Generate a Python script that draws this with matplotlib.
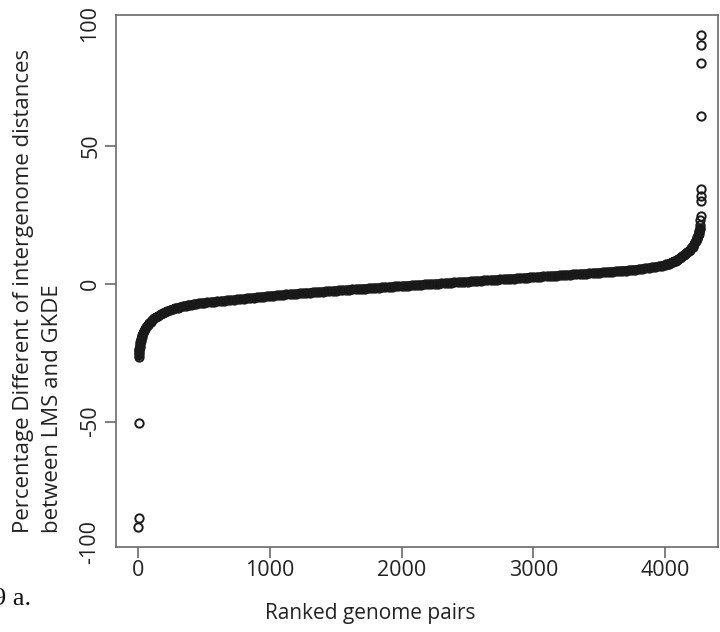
import matplotlib
matplotlib.use("Agg")
import matplotlib.pyplot as plt

# ---- data (rank, percentage difference) ----
ranks_left = [1, 2, 3, 4, 5, 6, 7, 8, 10, 12, 15, 18, 22, 26, 31, 37, 44, 52, 61, 71,
              82, 94, 107, 121, 136, 152, 170, 190,
              200, 220, 240, 260, 280, 300, 320, 340, 360, 380, 400, 420, 440, 460, 480]
values_left = [-88.2, -84.9, -50.5, -26.4, -25.6, -24.9, -24.2, -23.6, -22.8, -22.1,
               -21.3, -20.6, -19.9, -19.2, -18.5, -17.8, -17.1, -16.4, -15.7, -15.0,
               -14.4, -13.8, -13.2, -12.6, -12.1, -11.6, -11.1, -10.6,
               -10.4, -9.95, -9.6, -9.25, -8.95, -8.65, -8.4, -8.15, -7.95, -7.75,
               -7.55, -7.4, -7.25, -7.1, -7.0]

ranks_mid = [500, 525, 550, 575, 600, 625, 650, 675, 700, 725,
             750, 775, 800, 825, 850, 875, 900, 925, 950, 975,
             1000, 1025, 1050, 1075, 1100, 1125, 1150, 1175, 1200, 1225,
             1250, 1275, 1300, 1325, 1350, 1375, 1400, 1425, 1450, 1475,
             1500, 1525, 1550, 1575, 1600, 1625, 1650, 1675, 1700, 1725,
             1750, 1775, 1800, 1825, 1850, 1875, 1900, 1925, 1950, 1975,
             2000, 2025, 2050, 2075, 2100, 2125, 2150, 2175, 2200, 2225,
             2250, 2275, 2300, 2325, 2350, 2375, 2400, 2425, 2450, 2475,
             2500, 2525, 2550, 2575, 2600, 2625, 2650, 2675, 2700, 2725,
             2750, 2775, 2800, 2825, 2850, 2875, 2900, 2925, 2950, 2975,
             3000, 3025, 3050, 3075, 3100, 3125, 3150, 3175, 3200, 3225,
             3250, 3275, 3300, 3325, 3350, 3375, 3400, 3425, 3450, 3475,
             3500, 3525, 3550, 3575, 3600, 3625, 3650, 3675, 3700, 3725,
             3750, 3775, 3800, 3825, 3850, 3875, 3900, 3925, 3950, 3975,
             4000]
values_mid = [-6.90, -6.77, -6.65, -6.52, -6.40, -6.29, -6.17, -6.06, -5.95, -5.82,
              -5.70, -5.57, -5.45, -5.32, -5.20, -5.07, -4.95, -4.82, -4.70, -4.57,
              -4.45, -4.34, -4.24, -4.13, -4.03, -3.92, -3.81, -3.71, -3.60, -3.51,
              -3.42, -3.33, -3.23, -3.14, -3.05, -2.96, -2.87, -2.78, -2.68, -2.59,
              -2.50, -2.42, -2.34, -2.25, -2.17, -2.09, -2.01, -1.92, -1.84, -1.76,
              -1.68, -1.59, -1.51, -1.43, -1.35, -1.26, -1.18, -1.10, -1.02, -0.93,
              -0.85, -0.77, -0.69, -0.61, -0.53, -0.45, -0.37, -0.29, -0.21, -0.13,
              -0.05, 0.03, 0.11, 0.19, 0.27, 0.35, 0.43, 0.51, 0.59, 0.67,
              0.75, 0.83, 0.91, 0.99, 1.07, 1.15, 1.23, 1.31, 1.39, 1.47,
              1.55, 1.63, 1.71, 1.79, 1.87, 1.95, 2.03, 2.11, 2.19, 2.27,
              2.35, 2.43, 2.52, 2.60, 2.68, 2.76, 2.85, 2.93, 3.01, 3.09,
              3.18, 3.26, 3.34, 3.42, 3.51, 3.59, 3.67, 3.75, 3.84, 3.92,
              4.00, 4.09, 4.19, 4.28, 4.38, 4.47, 4.56, 4.66, 4.75, 4.87,
              5.00, 5.12, 5.25, 5.41, 5.58, 5.74, 5.90, 6.12, 6.35, 6.57,
              6.80]

ranks_right = [4010, 4020, 4030, 4040, 4050, 4060, 4070, 4080, 4090, 4100,
               4110, 4120, 4130, 4140, 4150, 4160, 4170, 4180, 4190, 4200,
               4208, 4215, 4222, 4228, 4234, 4240, 4245, 4250, 4254, 4258, 4261, 4264,
               4266, 4267, 4268, 4269, 4270, 4271, 4272, 4273, 4274, 4275, 4276]
values_right = [6.95, 7.1, 7.3, 7.5, 7.7, 7.9, 8.1, 8.35, 8.6, 8.9,
                9.2, 9.55, 9.9, 10.3, 10.65, 11.0, 11.4, 11.8, 12.3, 12.8,
                13.3, 13.8, 14.4, 15.0, 15.6, 16.2, 16.8, 17.4, 18.0, 18.6, 19.2, 19.8,
                20.1, 21.3, 23.1, 24.5, 30.1, 31.8, 34.2, 60.8, 80.1, 86.5, 90.1]

x_ticks = [0, 1000, 2000, 3000, 4000]
y_ticks = [-50, 0, 50]
y_edge_labels = ["100", "-100"]
x_label = "Ranked genome pairs"
y_label_1 = "Percentage Different of intergenome distances"
y_label_2 = "between LMS and GKDE"
caption = "9 a."

# ---- figure ----
W, H = 720, 632
fig = plt.figure(figsize=(W / 100, H / 100), dpi=100)
plt.rcParams['font.family'] = ['Open Sans', 'DejaVu Sans']

def fx(px):
    return px / W

def fy(py):
    return (H - py) / H

left, right, top, bottom = 116, 718, 15.4, 546.7
ax = fig.add_axes([fx(left), fy(bottom), (right - left) / W, (bottom - top) / H])

ranks = ranks_left + ranks_mid + ranks_right
values = values_left + values_mid + values_right

# the densely packed run of points merges into a solid band
dense_r = ranks_left[3:] + ranks_mid + ranks_right[:32]
dense_v = values_left[3:] + values_mid + values_right[:32]
mark_col = '#1a1a1a'
ax.plot(dense_r, dense_v, color='#111111', linewidth=6.2,
        solid_capstyle='round', solid_joinstyle='round')
ax.plot(ranks, values, linestyle='none', marker='o', markerfacecolor='none',
        markeredgecolor=mark_col, markersize=6.0, markeredgewidth=1.4)

ax.set_xlim(-169.3, 4401.6)
ax.set_ylim(-95.3, 97.2)

frame_col = '#6a6a6a'
for s in ax.spines.values():
    s.set_color(frame_col)
    s.set_linewidth(1.2)

ax.set_xticks(x_ticks)
ax.set_xticklabels([str(t) for t in x_ticks])
ax.set_yticks(y_ticks)
ax.set_yticklabels([str(t) for t in y_ticks], rotation=90, va='center')
ax.tick_params(axis='both', direction='out', length=7.6, width=1.2, color=frame_col,
               labelsize=15.5, labelcolor='#222222')
ax.tick_params(axis='x', pad=2.0)
ax.tick_params(axis='y', pad=3.0)

# edge labels of the y axis (drawn inside the frame extent, as in the picture)
fig.text(fx(89.5), fy(23.5), y_edge_labels[0], rotation=90, ha='center', va='center',
         fontsize=15.5, color='#222222')
fig.text(fx(89.5), fy(542.5), y_edge_labels[1], rotation=90, ha='center', va='center',
         fontsize=15.5, color='#222222')

# axis labels
fig.text(fx(370.5), fy(619), x_label, ha='center', va='baseline',
         fontsize=15, color='#222222')
fig.text(fx(28.5), fy(533), y_label_1, rotation=90, rotation_mode='anchor',
         ha='left', va='baseline', fontsize=16, color='#222222')
fig.text(fx(58.5), fy(533), y_label_2, rotation=90, rotation_mode='anchor',
         ha='left', va='baseline', fontsize=16, color='#222222')

fig.text(fx(-6.8), fy(605), caption, ha='left', va='baseline',
         fontsize=19, family=['Liberation Serif', 'DejaVu Serif'], color='#111111')

fig.savefig('out.png', dpi=100)
